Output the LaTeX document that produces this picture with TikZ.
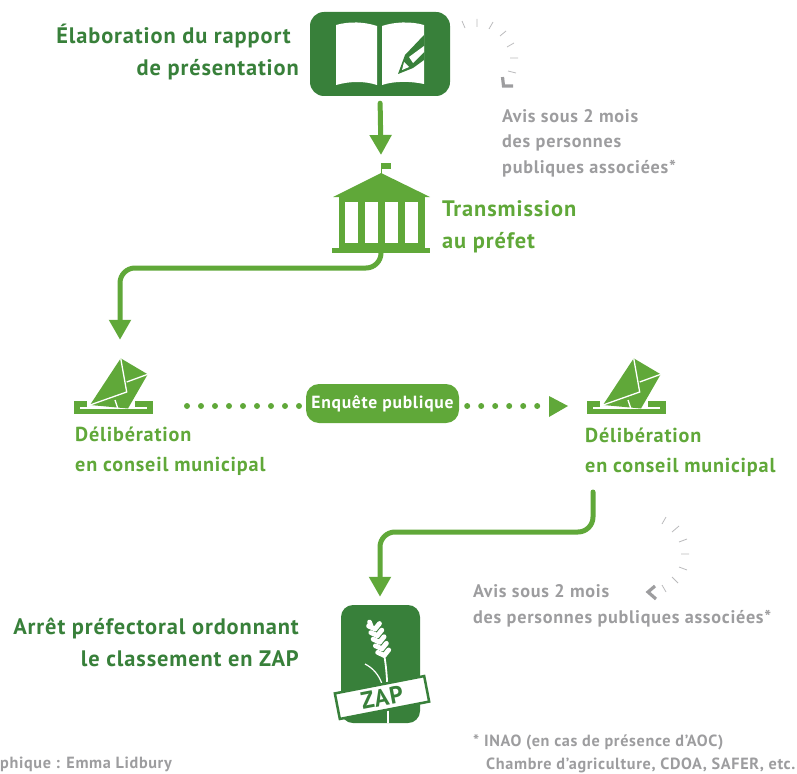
\documentclass[tikz,border=0pt]{standalone}
\usepackage{fontspec}
\usepackage{xcolor}
\usetikzlibrary{arrows.meta}
\setmainfont{PT Sans}[LetterSpace=4]
\definecolor{darkgreen}{HTML}{38803A}
\definecolor{lightgreen}{HTML}{60A839}
\definecolor{notegray}{HTML}{9D9D9F}
\tikzset{
  flow/.style={draw=lightgreen, line width=5pt, rounded corners=15pt, line cap=round,
    -{Triangle[width=21pt,length=20pt]}},
  dots/.style={draw=lightgreen, line width=6pt, line cap=round, dash pattern=on 0pt off 14pt},
  title/.style={inner sep=0pt, font=\bfseries\fontsize{22.4}{32}\selectfont, align=left},
  subtitle/.style={title, text=lightgreen, anchor=west, font=\bfseries\fontsize{20.2}{30}\selectfont},
  note/.style={inner sep=0pt, text=notegray, font=\bfseries\fontsize{18.2}{25.5}\selectfont, align=left},
  small/.style={inner sep=0pt, anchor=west, text=notegray, align=left, font=\bfseries\fontsize{16.2}{23}\selectfont},
  tick/.style={draw=notegray!70, line width=0.8pt},
  chevron/.style={draw=notegray, line width=3.2pt},
  iconbox/.style={fill=darkgreen, rounded corners=14pt, inner sep=0pt},
  ghost/.style={inner sep=0pt, minimum size=0pt},
  grain/.style={draw=white, line width=4.8pt, line cap=round},
  ballot/.pic={
    \fill[lightgreen] (-46,-5) rectangle (33,8);
    \fill[white] (-33,-5) rectangle (15,2);
    \fill[white] (-40,0.5) rectangle (27,2.5);
    \fill[lightgreen] (0.7,-47.7) -- (27.7,-31.7) -- (8,2.5) -- (-30,-1) -- cycle;
    \draw[white, line width=1.3pt] (0.7,-47.7) -- (6.7,-14) -- (-30,-1);
    \draw[white, line width=1.3pt] (6.7,-24) -- (27.7,-31.7);
    \draw[white, line width=1.3pt] (-5,-6) -- (-2,3);
  }
}
\begin{document}
\begin{tikzpicture}[x=1pt, y=-1pt]
  \useasboundingbox (0,0) rectangle (797,773);

  % book
  \node[iconbox, minimum width=140pt, minimum height=84pt] (book) at (380,54) {};
  \fill[white] (336,25) .. controls (350,21) and (365,22) .. (377,26) -- (377,85)
    .. controls (365,81) and (350,81) .. (336,85) -- cycle;
  \fill[white] (382,26) .. controls (394,22) and (410,21) .. (424,25) -- (424,84)
    .. controls (410,81) and (394,81) .. (382,85) -- cycle;
  \fill[darkgreen] (424,35) -- (405,55) -- (398,74) -- (413,68) -- (424,60) -- cycle;
  \fill[white] (409,57) -- (424,46) -- (424,52) -- (413,63) -- cycle;
  \fill[white] (402,70) -- (404,62) -- (409,67) -- cycle;

  % bank
  \node[ghost, minimum width=98pt, minimum height=90pt] (bank) at (381,208) {};
  \fill[lightgreen] (381,163) rectangle (391,169);
  \draw[lightgreen, line width=0.8pt] (381.5,163) -- (381.5,174);
  \fill[lightgreen] (381,173) -- (430,197) -- (333,197) -- cycle;
  \fill[lightgreen] (339,197) rectangle (425,248);
  \fill[lightgreen] (332,248) rectangle (430,253);
  \foreach \x in {345,365,385,405}
    \fill[white] (\x,202) rectangle ++(12.5,41);

  % ballots
  \pic at (120,406) {ballot};
  \pic at (633,406) {ballot};
  \node[ghost] (voteA) at (120,340) {};
  \node[ghost] (voteB) at (380,597) {};

  % zap
  \node[iconbox, minimum width=79pt, minimum height=118pt, rounded corners=12pt] (zap) at (380.5,664) {};
  \draw[white, line width=1.8pt] (384,654) .. controls (387,670) and (388,690) .. (388,723);
  \draw[white, line width=1.2pt] (365,664) .. controls (373,668) and (379,675) .. (382,684);
  \foreach \t in {0,1,2,3,4} {
    \draw[grain] (375+2.3*\t,629+6.6*\t) -- ++(-6.5,-3);
    \draw[grain] (375+2.3*\t,629+6.6*\t) -- ++(4.5,-5.5);
  }
  \draw[grain] (371,626) -- (369.5,622);
  \node[draw=darkgreen, fill=white, line width=2.5pt, minimum width=91pt, minimum height=26pt, inner sep=0pt,
    rotate=11, text=darkgreen, font=\bfseries\fontsize{24}{24}\selectfont] (zaplabel) at (382,697.5) {ZAP};

  % connectors
  \coordinate (bendA) at (250,268);
  \coordinate (bendB) at (480,532);
  \coordinate (startB) at (593,492);
  \draw[flow, shorten <=7pt, rounded corners=0pt] (book.south) -- (bank.north |- 0,155);
  \draw[flow] (bank.south) |- (bendA) -| (voteA);
  \draw[flow] (startB) |- (bendB) -| (voteB);

  % survey
  \node[fill=lightgreen, rounded corners=13pt, minimum width=153pt, minimum height=39pt, inner sep=0pt,
    text=white, font=\bfseries\fontsize{17.6}{17.6}\selectfont] (survey) at (382.5,403.5) {Enquête publique};
  \coordinate (dotsA) at (187,406);
  \coordinate (dotsB) at (540,406);
  \coordinate (dotsC) at (568,406);
  \draw[dots] (dotsA) -- (survey.west |- dotsA);
  \draw[dots] (survey.east |- dotsA) ++(8,0) coordinate (dotsD) -- (dotsB);
  \fill[lightgreen] (549,396) -- (dotsC) -- (549,417) -- cycle;

  % ticks
  \draw[tick] (462,21) -- (465,28) (477,19) -- (477,27) (493,22) -- (489,29) (506,31) -- (500,36)
    (514,43) -- (507,47) (518,58) -- (510,58) (516,73) -- (508,71);
  \draw[chevron] (502.5,77) -- (503.5,86) -- (513,86);
  \draw[tick] (666,517) -- (662,524) (679,526) -- (672,532) (687,539) -- (679,542) (689,554) -- (681,554)
    (687,570) -- (679,567) (678,583) -- (672,577) (666,592) -- (662,585);
  \draw[chevron] (655,586) -- (648,592) -- (656,599);

  % labels
  \node[title, text=darkgreen, anchor=east, align=right] (booktext) at (299,52) {Élaboration du rapport\hspace*{8pt}\\de présentation};
  \node[title, text=lightgreen, anchor=west] (banktext) at (442,227) {Transmission\\au préfet};
  \node[subtitle] (voteAtext) at (75,451) {Délibération\\en conseil municipal};
  \node[subtitle] (voteBtext) at (585,452) {Délibération\\en conseil municipal};
  \node[title, text=darkgreen, anchor=east, align=right] (zaptext) at (299,642) {Arrêt préfectoral ordonnant\\le classement en ZAP};
  \node[note, anchor=west] (noteA) at (502,143) {Avis sous 2 mois\\des personnes\\publiques associées*};
  \node[note, anchor=west] (noteB) at (473,606) {Avis sous 2 mois\\des personnes publiques associées*};
  \node[small] (footnote) at (473,754)
    {* INAO (en cas de présence d'AOC)\\\hspace*{13pt}Chambre d'agriculture, CDOA, SAFER, etc.};
  \node[small] (credit) at (0,764.5) {phique : Emma Lidbury};
\end{tikzpicture}
\end{document}
